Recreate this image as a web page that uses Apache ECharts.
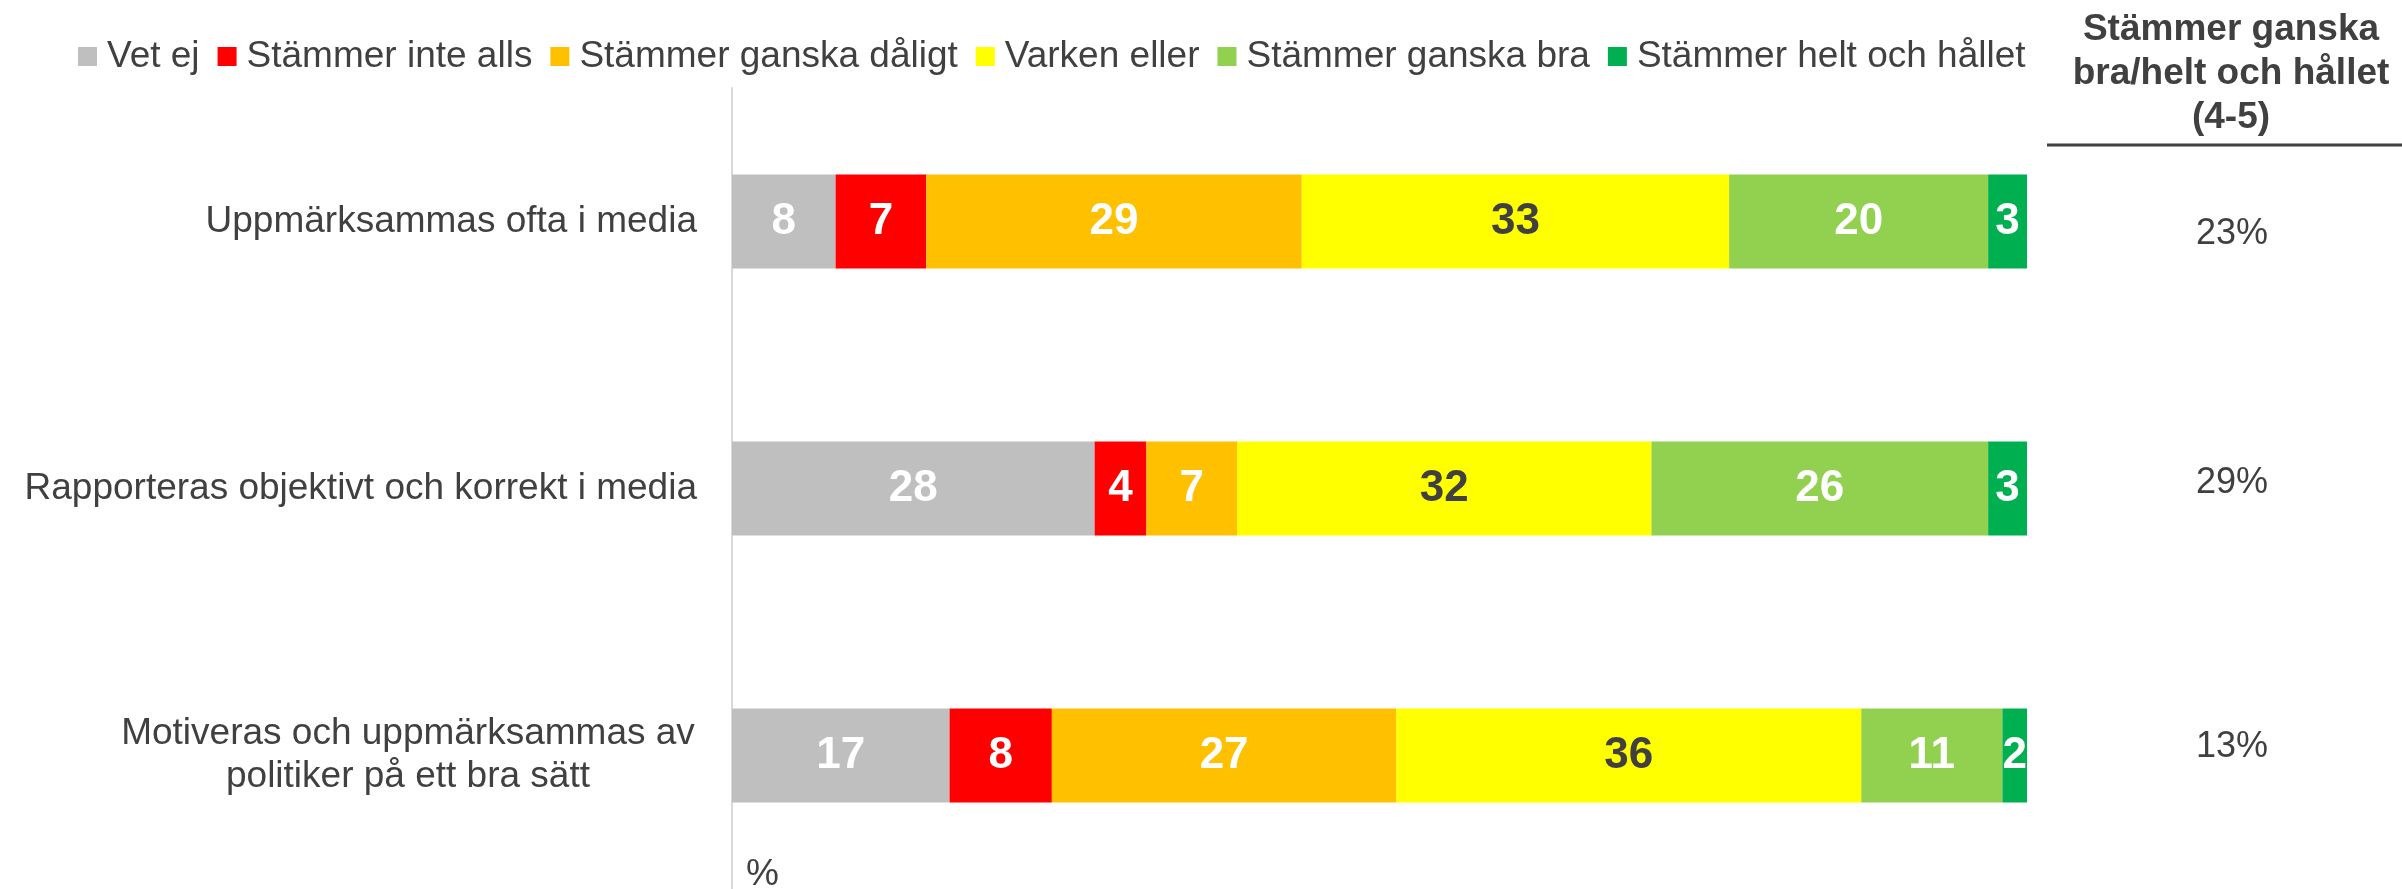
<!DOCTYPE html>
<html>
<head>
<meta charset="utf-8">
<script src="https://cdn.jsdelivr.net/npm/echarts@6/dist/echarts.min.js"></script>
<style>
    html, body { margin: 0; padding: 0; background: #fff; }
    #chart { width: 2402px; height: 889px; }
</style>
</head>
<body>
<div id="chart"></div>
<script>
// data
var categories = [
    'Uppmärksammas ofta i media',
    'Rapporteras objektivt och korrekt i media',
    'Motiveras och uppmärksammas av\npolitiker på ett bra sätt'
];
var seriesNames = ['Vet ej', 'Stämmer inte alls', 'Stämmer ganska dåligt', 'Varken eller', 'Stämmer ganska bra', 'Stämmer helt och hållet'];
var vetEj = [8, 28, 16.8];
var inteAlls = [7, 4, 7.9];
var ganskaDaligt = [29, 7, 26.6];
var varkenEller = [33, 32, 35.9];
var ganskaBra = [20, 26, 10.9];
var heltOchHallet = [3, 3, 1.9];
var topTwo = [23, 29, 13];
var headerText = 'Stämmer ganska\nbra/helt och hållet\n(4-5)';

var colors = ['#BFBFBF', '#FF0000', '#FFC000', '#FFFF00', '#92D050', '#00B050'];
var FONT = '"Liberation Sans", Arial, sans-serif';
var TXT = '#404040';

var chart = echarts.init(document.getElementById('chart'));

var values = [vetEj, inteAlls, ganskaDaligt, varkenEller, ganskaBra, heltOchHallet];
var series = [];
for (var i = 0; i < values.length; i++) {
    series.push({
        name: seriesNames[i],
        type: 'bar',
        stack: 'total',
        barWidth: 94,
        data: values[i],
        itemStyle: { color: colors[i] },
        label: {
            show: true,
            position: 'inside',
            formatter: function (p) { return Math.round(p.value); },
            color: i === 3 ? TXT : '#fff',
            fontSize: 44,
            fontWeight: 'bold',
            fontFamily: FONT
        }
    });
}

// the 4-5 column does not sit exactly on the bar centres in the original
var pctRich = {
    p0: { padding: [26, 0, 0, 0] },
    p1: { padding: [0, 0, 10, 0] },
    p2: { padding: [0, 0, 17, 0] }
};
for (var k in pctRich) {
    pctRich[k].fontSize = 36;
    pctRich[k].color = TXT;
    pctRich[k].fontFamily = FONT;
}

var option = {
    animation: false,
    textStyle: { fontFamily: FONT },
    legend: {
        left: 73,
        top: 33,
        itemWidth: 19,
        itemHeight: 19,
        itemGap: 18,
        icon: 'rect',
        data: seriesNames,
        textStyle: { fontSize: 37, color: TXT, fontFamily: FONT, padding: [0, 0, 0, 5] }
    },
    grid: { left: 732, right: 375, top: 88, bottom: 0 },
    xAxis: { type: 'value', min: 0, max: 100, show: false },
    yAxis: [
        {
            type: 'category',
            inverse: true,
            data: categories,
            axisLine: { show: true, lineStyle: { color: '#D9D9D9', width: 2 } },
            axisTick: { show: false },
            axisLabel: {
                margin: 35,
                fontSize: 37,
                color: TXT,
                fontFamily: FONT,
                lineHeight: 43,
                formatter: function (v) {
                    if (v.indexOf('\n') < 0) return v;
                    return v.split('\n').map(function (s) { return '{c|' + s + '}'; }).join('\n');
                },
                rich: {
                    c: { width: 578, align: 'center', fontSize: 37, lineHeight: 43, color: TXT, fontFamily: FONT }
                }
            }
        },
        {
            type: 'category',
            inverse: true,
            position: 'right',
            data: categories,
            axisLine: { show: false },
            axisTick: { show: false },
            axisLabel: {
                margin: 205,
                align: 'center',
                fontSize: 36,
                color: TXT,
                fontFamily: FONT,
                formatter: function (v, idx) { return '{p' + idx + '|' + topTwo[idx] + '%}'; },
                rich: pctRich
            }
        }
    ],
    graphic: [
        {
            type: 'text',
            x: 2231,
            y: 8,
            style: {
                text: headerText,
                align: 'center',
                verticalAlign: 'top',
                font: 'bold 37px ' + FONT,
                lineHeight: 44,
                fill: TXT
            }
        },
        {
            type: 'line',
            shape: { x1: 2047, y1: 145, x2: 2402, y2: 145 },
            style: { stroke: TXT, lineWidth: 3 }
        },
        {
            type: 'text',
            x: 746,
            y: 856,
            style: { text: '%', font: '37px ' + FONT, fill: TXT, verticalAlign: 'top' }
        }
    ],
    series: series
};

chart.setOption(option);
</script>
</body>
</html>
